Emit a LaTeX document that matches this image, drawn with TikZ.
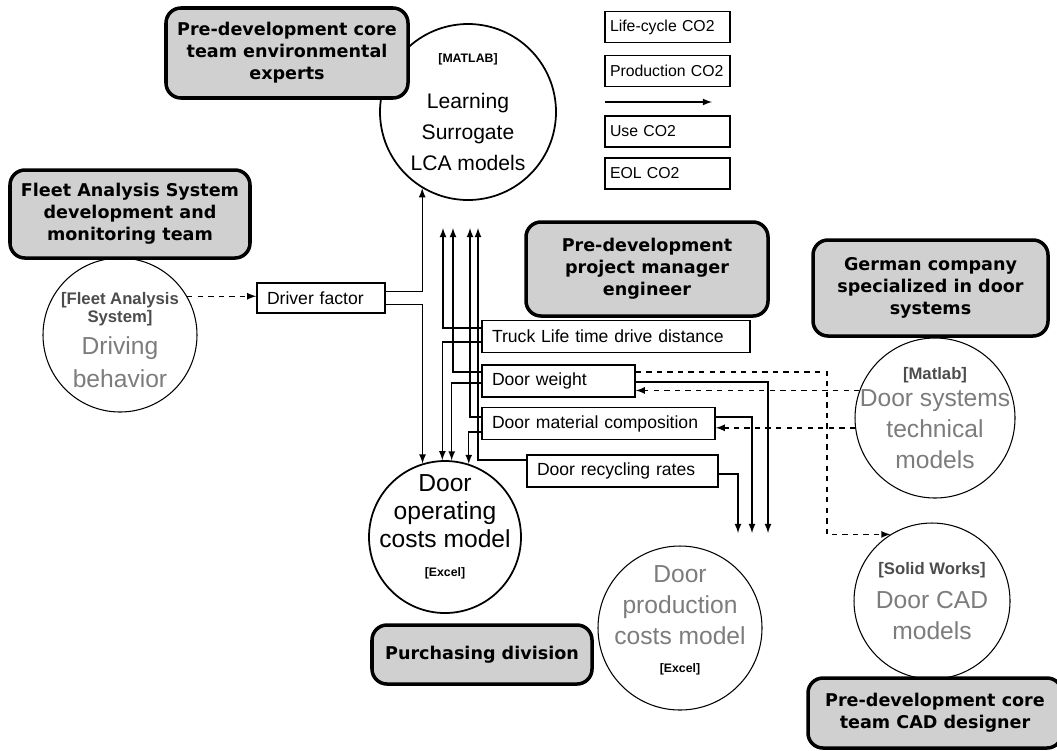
\documentclass[tikz,border=0pt]{standalone}
\usepackage{fontspec}
\setmainfont{Liberation Sans}
\newfontfamily\teamfont{DejaVu Sans}
\usetikzlibrary{shapes, arrows, positioning}
\definecolor{TeamGray}{HTML}{D0D0D0}
\definecolor{SoftGray}{HTML}{7C7C7C}
\newcommand{\toolname}[1]{{\bfseries\fontsize{7}{8}\selectfont #1}}
\newcommand{\softtool}[1]{{\color{black!70}\bfseries\fontsize{9.5}{10}\selectfont #1}}

\begin{document}
\begin{tikzpicture} [
			>=latex,
			every node/.style={align=center},
			team/.style={draw,rectangle,rounded corners=3mm,line width=2pt,fill=TeamGray,font=\teamfont\bfseries\fontsize{10}{12.6}\selectfont},
			model/.style={draw,circle,line width=1pt,inner sep=0pt},
			soft/.style={draw,circle,semithick,inner sep=0pt},
			modeltext/.style={font=\fontsize{12}{17.6}\selectfont},
			softtext/.style={font=\fontsize{14}{17.5}\selectfont,text=SoftGray},
			param/.style={draw,rectangle,thick,minimum height=0.64cm,inner xsep=2mm,inner ysep=0pt,align=left,font=\fontsize{10}{12}\selectfont},
			output/.style={param,minimum height=0.62cm,inner xsep=1mm,text width=2.3cm,font=\fontsize{9}{11}\selectfont},
			link/.style={->,thick},
			hint/.style={->,thick,dashed}
		]
			\useasboundingbox (0,0) rectangle (21.14,-15);

			% models
			\node at (9.36,-2.24) [model,minimum size=3.52cm] (lca) {};
			\node at (lca) [modeltext] (lcaText) {\toolname{[MATLAB]}\\[9pt]Learning\\Surrogate\\LCA models};
			\node at (2.40,-6.70) [soft,minimum size=3.08cm] (drive) {};
			\node at ([yshift=-1mm]drive) [softtext] (driveText) {\softtool{[Fleet Analysis}\\[-7.5pt]\softtool{System]}\\[1pt]Driving\\[1pt]behavior};
			\node at (8.90,-10.74) [model,minimum size=3.04cm] (opc) {};
			\node at ([yshift=2mm]opc) [font=\fontsize{14}{15.8}\selectfont] (opcText) {Door\\operating\\costs model\\[1pt]\toolname{[Excel]}};
			\node at (13.60,-12.56) [soft,minimum size=3.28cm] (prod) {};
			\node at ([yshift=1.5mm]prod) [softtext] (prodText) {Door\\production\\costs model\\[-1.5pt]{\color{black}\toolname{[Excel]}}};
			\node at (18.70,-8.36) [soft,minimum size=3.2cm] (tech) {};
			\node at (tech) [softtext] (techText) {\softtool{[Matlab]}\\[-2pt]Door systems\\technical\\models};
			\node at (18.64,-12.02) [soft,minimum size=3.12cm] (cad) {};
			\node at (cad) [softtext] (cadText) {\softtool{[Solid Works]}\\[2pt]Door CAD\\models};

			% results of the surrogate models
			\node at (13.35,-0.54) [output] (lcCo2) {Life-cycle CO2};
			\node at (13.35,-1.42) [output] (prodCo2) {Production CO2};
			\node at (13.35,-2.63) [output] (useCo2) {Use CO2};
			\node at (13.35,-3.47) [output] (eolCo2) {EOL CO2};
			\coordinate (outA) at (12.10,-2.04);
			\coordinate (outB) at (14.24,-2.04);

			% parameters
			\node at (6.42,-5.96) [param,text width=2.16cm,minimum height=0.6cm] (drv) {Driver factor};
			\node at (12.32,-6.73) [param,text width=4.96cm] (trk) {Truck Life time drive distance};
			\node at (11.17,-7.62) [param,text width=2.66cm] (dw) {Door weight};
			\node at (11.97,-8.47) [param,text width=4.26cm] (mat) {Door material composition};
			\node at (12.45,-9.42) [param,text width=3.42cm] (rec) {Door recycling rates};

			% free arrow ends
			\coordinate (upA) at (8.86,-4.56);
			\coordinate (upB) at (9.06,-4.56);
			\coordinate (upC) at (9.40,-4.56);
			\coordinate (upD) at (9.56,-4.56);
			\coordinate (prA) at (14.76,-10.66);
			\coordinate (prB) at (15.04,-10.66);
			\coordinate (prC) at (15.36,-10.66);

			% teams
			\node at (5.74,-1.06) [team,minimum width=4.84cm,minimum height=1.8cm] (envTeam) {Pre-development core\\team environmental\\experts};
			\node at (2.60,-4.28) [team,minimum width=4.8cm,minimum height=1.76cm] (fleetTeam) {Fleet Analysis System\\development and\\monitoring team};
			\node at (12.94,-5.38) [team,minimum width=4.84cm,minimum height=1.88cm] (pmTeam) {Pre-development\\project manager\\engineer};
			\node at (18.61,-5.76) [team,minimum width=4.7cm,minimum height=1.92cm] (doorTeam) {German company\\specialized in door\\systems};
			\node at (9.64,-13.09) [team,minimum width=4.4cm,minimum height=1.18cm] (buyTeam) {Purchasing division};
			\node at (18.70,-14.26) [team,minimum width=5.08cm,minimum height=1.4cm] (cadTeam) {Pre-development core\\team CAD designer};

			% driver factor feeds both models
			\draw[hint] (drive.30) -- (drive.30 -| drv.west);
			\draw[link] ([yshift=1.3mm]drv.east) -| (lca.239);
			\draw[link] ([yshift=-1.3mm]drv.east) -| (opc.107);
			% up to the surrogate models
			\draw[link] ([yshift=1.7mm]trk.west) -| (upA);
			\draw[link] ([yshift=1.8mm]dw.west) -| (upB);
			\draw[link] ([yshift=1.3mm]mat.west) -| (upC);
			\draw[link] ([yshift=2.2mm]rec.west) -| (upD);
			% down to the operating costs
			\draw[link] ([yshift=-1.1mm]trk.west) -| (opc.92);
			\draw[link] ([yshift=-0.4mm]dw.west) -| (opc.85);
			\draw[link] ([yshift=-1.7mm]mat.west) -| (opc.72);
			% to the production costs
			\draw[link] ([yshift=-0.2mm]dw.east) -| (prC);
			\draw[link] ([yshift=1.3mm]mat.east) -| (prB);
			\draw[link] ([yshift=-0.6mm]rec.east) -| (prA);
			% door supplier data
			\draw[hint] (tech.160) -- (tech.160 -| dw.east);
			\draw[hint] (tech.187) -- (tech.187 -| mat.east);
			\draw[hint] ([yshift=1.8mm]dw.east) -| ([xshift=-1.27cm]cad.122) -- (cad.122);
			% outputs
			\draw[link] (outA) -- (outB);
		\end{tikzpicture}
\end{document}
